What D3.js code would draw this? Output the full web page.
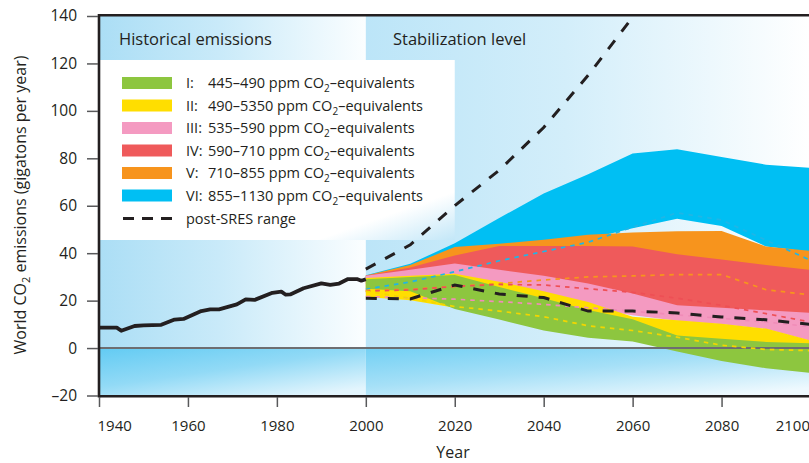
<!DOCTYPE html>
<html>
<head>
<meta charset="utf-8">
<script src="https://cdn.jsdelivr.net/npm/d3@7"></script>
<style>
  html, body { margin: 0; padding: 0; background: #ffffff; }
  svg { display: block; font-family: "Open Sans", "Noto Sans", sans-serif; }
</style>
</head>
<body>
<svg id="chart" width="809" height="463"></svg>
<script>
// ---- Historical emissions (GtCO2-eq per year) ----
const histYears  = [1940, 1944, 1945, 1948, 1950, 1954, 1957, 1959, 1963, 1965, 1967, 1971, 1973, 1975, 1979, 1981, 1982, 1983, 1986, 1990, 1992, 1994, 1996, 1998, 1999, 2000];
const histValues = [8.6, 8.6, 7.3, 9.3, 9.6, 9.8, 12.0, 12.3, 15.6, 16.3, 16.3, 18.4, 20.5, 20.3, 23.3, 23.8, 22.5, 22.6, 25.2, 27.3, 26.6, 27.2, 29.1, 29.1, 28.4, 29.0];

// ---- Stabilization scenario ranges, by decade ----
const scenarioYears = [2000, 2010, 2020, 2030, 2040, 2050, 2060, 2070, 2080, 2090, 2100];

const catI_low    = [25.0, 24.0, 16.5, 12.0, 7.4, 4.4, 2.8, -1.5, -5.5, -8.5, -10.5];
const catI_high   = [29.0, 30.0, 30.8, 25.7, 21.0, 16.0, 12.2, 5.3, 3.9, 2.6, 2.0];

const catII_low    = [21.5, 20.2, 17.0, 13.0, 8.0, 5.0, 3.0, 1.0, -1.0, -2.0, -3.0];
const catII_high   = [29.5, 30.5, 31.3, 28.0, 24.0, 19.4, 13.2, 11.7, 10.2, 8.2, 3.2];
const catII_median = [24.0, 21.0, 17.5, 15.6, 13.2, 9.4, 7.4, 4.6, 1.2, -0.6, -1.1];

const catIII_low    = [23.0, 23.5, 24.0, 22.0, 20.0, 17.0, 13.8, 11.5, 10.0, 8.0, 3.0];
const catIII_high   = [30.5, 33.0, 35.7, 33.0, 30.5, 27.2, 23.0, 18.1, 17.0, 15.9, 14.8];
const catIII_median = [21.7, 21.2, 20.6, 19.6, 18.4, 17.0, 15.5, 14.0, 12.5, 11.0, 9.0];

const catIV_low    = [27.0, 28.0, 29.0, 28.0, 26.0, 23.0, 20.0, 16.5, 14.5, 12.5, 10.5];
const catIV_high   = [30.5, 34.0, 39.0, 43.0, 43.0, 43.0, 42.8, 39.6, 37.3, 35.0, 32.9];
const catIV_median = [24.0, 24.5, 26.0, 26.8, 26.6, 25.0, 23.5, 21.0, 18.0, 14.5, 11.0];

const catV_low    = [28.0, 29.0, 32.0, 34.0, 35.0, 35.0, 34.0, 32.0, 30.0, 28.0, 26.0];
const catV_high   = [30.6, 35.0, 42.6, 44.0, 45.7, 47.8, 48.7, 49.2, 49.4, 42.8, 41.0];
const catV_median = [24.3, 24.8, 26.0, 27.2, 28.7, 30.0, 30.4, 31.0, 31.0, 24.6, 22.4];

const catVI_low    = [29.0, 31.0, 34.0, 38.0, 42.0, 46.0, 50.5, 54.5, 51.5, 42.8, 40.5];
const catVI_high   = [30.7, 35.5, 44.2, 54.8, 65.2, 73.3, 82.0, 83.8, 80.6, 77.3, 76.0];
const catVI_median = [24.8, 27.9, 32.2, 36.8, 40.7, 44.6, 51.0, 57.0, 54.0, 45.5, 37.0];

// ---- post-SRES range ----
const sresLow      = [21.0, 20.7, 26.6, 22.8, 21.3, 15.6, 15.6, 14.8, 13.1, 11.9, 10.0];
const sresHighYears = [2000, 2010, 2020, 2030, 2040, 2050, 2060];
const sresHigh      = [33.3, 43.5, 60.0, 75.0, 93.0, 115.0, 139.5];

// ---- Legend / category labels ----
const catNumerals = ["I:", "II:", "III:", "IV:", "V:", "VI:"];
const catRanges   = ["445–490", "490–5350", "535–590", "590–710", "710–855", "855–1130"];
const catColors   = ["#8dc63f", "#ffde00", "#f49ac1", "#ef5a5b", "#f7941d", "#00bff3"];
const medianColors = [null, "#f2d600", "#f08cb8", "#ee4f55", "#f7941d", "#1fb6e6"];

// ---- Axis ticks ----
const yTicks = [-20, 0, 20, 40, 60, 80, 100, 120, 140];
const xTicks = [1940, 1960, 1980, 2000, 2020, 2040, 2060, 2080, 2100];

const ink = "#231f20";
const svg = d3.select("#chart");
const W = 809;

const x = d3.scaleLinear().domain([1940, 2100]).range([99, 810.5]);
const y = d3.scaleLinear().domain([-20, 140]).range([395.5, 16]);

const defs = svg.append("defs");
function linGrad(id, x1, y1, x2, y2, stops) {
  const g = defs.append("linearGradient").attr("id", id)
    .attr("x1", x1).attr("y1", y1).attr("x2", x2).attr("y2", y2);
  stops.forEach(s => g.append("stop").attr("offset", s[0]).attr("stop-color", s[1]));
}
linGrad("histTop", 0, 0, 1, 0, [[0, "#abdef5"], [0.45, "#c9eaf9"], [1, "#fbfeff"]]);
linGrad("stabTop", 0, 0, 1, 0, [[0, "#bce5f8"], [0.45, "#d3eefa"], [1, "#ffffff"]]);
linGrad("histNeg", 0, 0, 0.8, 1, [[0, "#62cbf3"], [0.5, "#92daf6"], [1, "#e3f5fd"]]);
linGrad("stabNeg", 0, 0, 0.8, 1, [[0, "#72d0f4"], [0.5, "#a6e0f7"], [1, "#eef9fe"]]);
linGrad("legendFill", 0.55, 0.35, 1, 1, [[0, "#ffffff"], [0.72, "#ffffff"], [1, "#c3e7f8"]]);

const xL = x(1940), xM = x(2000), xR = x(2100);
const yT = y(140), yZ = y(0), yB = y(-20);

defs.append("clipPath").attr("id", "plotClip")
  .append("rect").attr("x", xL).attr("y", yT).attr("width", xR - xL).attr("height", yB - yT);

// Background panels
const bg = svg.append("g");
bg.append("rect").attr("x", xL).attr("y", yT).attr("width", xM - xL).attr("height", yZ - yT).attr("fill", "url(#histTop)");
bg.append("rect").attr("x", xM).attr("y", yT).attr("width", xR - xM).attr("height", yZ - yT).attr("fill", "url(#stabTop)");
bg.append("rect").attr("x", xL).attr("y", yZ).attr("width", xM - xL).attr("height", yB - yZ).attr("fill", "url(#histNeg)");
bg.append("rect").attr("x", xM).attr("y", yZ).attr("width", xR - xM).attr("height", yB - yZ).attr("fill", "url(#stabNeg)");

// Legend panel
const legX = xL, legY = 60, legW = x(2020) - xL, legH = 180;
bg.append("rect").attr("x", legX).attr("y", legY).attr("width", legW).attr("height", legH).attr("fill", "url(#legendFill)");

// Panel titles
svg.append("text").attr("x", 119).attr("y", 45).attr("font-size", 16.5).attr("fill", ink).text("Historical emissions");
svg.append("text").attr("x", 393).attr("y", 45).attr("font-size", 16.5).attr("fill", ink).text("Stabilization level");

// Scenario bands
const plot = svg.append("g").attr("clip-path", "url(#plotClip)");
const bandLows  = [catI_low, catII_low, catIII_low, catIV_low, catV_low, catVI_low];
const bandHighs = [catI_high, catII_high, catIII_high, catIV_high, catV_high, catVI_high];
const bandMeds  = [null, catII_median, catIII_median, catIV_median, catV_median, catVI_median];

const area = d3.area().x(d => x(d.year)).y0(d => y(d.low)).y1(d => y(d.high));
const line = d3.line().x(d => x(d.year)).y(d => y(d.v));

// widest range at the back, lowest category on top
for (let i = 5; i >= 0; i--) {
  const rows = scenarioYears.map((yr, k) => ({ year: yr, low: bandLows[i][k], high: bandHighs[i][k] }));
  plot.append("path").datum(rows).attr("d", area).attr("fill", catColors[i]);
}

// zero line
plot.append("line").attr("x1", xL).attr("x2", xR).attr("y1", yZ).attr("y2", yZ)
  .attr("stroke", "#6d6e71").attr("stroke-width", 2);

// category medians
for (let i = 5; i >= 1; i--) {
  const rows = scenarioYears.map((yr, k) => ({ year: yr, v: bandMeds[i][k] }));
  plot.append("path").datum(rows).attr("d", line).attr("fill", "none")
    .attr("stroke", medianColors[i]).attr("stroke-width", 1.7).attr("stroke-dasharray", "4.5,5");
}

// post-SRES range
plot.append("path").datum(scenarioYears.map((yr, k) => ({ year: yr, v: sresLow[k] })))
  .attr("d", line).attr("fill", "none").attr("stroke", ink).attr("stroke-width", 3)
  .attr("stroke-dasharray", "11,11");
plot.append("path").datum(sresHighYears.map((yr, k) => ({ year: yr, v: sresHigh[k] })))
  .attr("d", line).attr("fill", "none").attr("stroke", ink).attr("stroke-width", 3)
  .attr("stroke-dasharray", "11,11");

// historical emissions
plot.append("path").datum(histYears.map((yr, k) => ({ year: yr, v: histValues[k] })))
  .attr("d", line).attr("fill", "none").attr("stroke", ink).attr("stroke-width", 3.8)
  .attr("stroke-linejoin", "round");

// Frame
svg.append("line").attr("x1", xL).attr("x2", W).attr("y1", 15.3).attr("y2", 15.3).attr("stroke", ink).attr("stroke-width", 2.4);
svg.append("line").attr("x1", xL).attr("x2", W).attr("y1", 396.3).attr("y2", 396.3).attr("stroke", ink).attr("stroke-width", 2.4);
svg.append("line").attr("x1", xL).attr("x2", xL).attr("y1", 14).attr("y2", 397.5).attr("stroke", ink).attr("stroke-width", 2.6);

// Axes
const yAxis = svg.append("g").attr("transform", `translate(${xL - 1},0)`)
  .call(d3.axisLeft(y).tickValues(yTicks).tickSize(11).tickPadding(10).tickFormat(d => d < 0 ? "–" + Math.abs(d) : d));
yAxis.select(".domain").remove();
yAxis.selectAll(".tick line").attr("stroke", "#58595b").attr("stroke-width", 1.5);
yAxis.selectAll(".tick text").attr("font-size", 15.5).attr("fill", ink).attr("font-family", "Open Sans");

const xAxis = svg.append("g").attr("transform", `translate(0,${397})`)
  .call(d3.axisBottom(x).tickValues(xTicks).tickSize(10).tickPadding(13).tickFormat(d3.format("d")));
xAxis.select(".domain").remove();
xAxis.selectAll(".tick line").attr("stroke", "#58595b").attr("stroke-width", 1.5);
xAxis.selectAll(".tick text").attr("font-size", 15).attr("fill", ink).attr("font-family", "Open Sans")
  .attr("text-anchor", d => d === 1940 ? "start" : (d === 2100 ? "end" : "middle"))
  .attr("dx", d => d === 1940 ? -2 : (d === 2100 ? -1 : 0));

svg.append("text").attr("x", 453).attr("y", 458).attr("text-anchor", "middle")
  .attr("font-size", 16).attr("fill", ink).text("Year");

// Y axis title
const yt = svg.append("text").attr("transform", "translate(26,205) rotate(-90)")
  .attr("text-anchor", "middle").attr("font-size", 16).attr("fill", ink);
yt.append("tspan").text("World CO");
yt.append("tspan").attr("font-size", 11).attr("dy", 4).text("2");
yt.append("tspan").attr("dy", -4).text(" emissions (gigatons per year)");

// Legend
const rowY = [83, 105.5, 128, 150.5, 173, 195.5, 218.5];
const leg = svg.append("g");
catNumerals.forEach((num, i) => {
  leg.append("rect").attr("x", 122).attr("y", rowY[i] - 6).attr("width", 50).attr("height", 12).attr("fill", catColors[i]);
  leg.append("text").attr("x", 186).attr("y", rowY[i] + 5).attr("font-size", 14.5).attr("fill", ink).text(num);
  const t = leg.append("text").attr("x", 208).attr("y", rowY[i] + 5).attr("font-size", 14.5).attr("fill", ink);
  t.append("tspan").text(catRanges[i] + " ppm CO");
  t.append("tspan").attr("font-size", 10).attr("dy", 4).text("2");
  t.append("tspan").attr("dy", -4).text("–equivalents");
});
leg.append("line").attr("x1", 123).attr("x2", 172).attr("y1", rowY[6]).attr("y2", rowY[6])
  .attr("stroke", ink).attr("stroke-width", 3).attr("stroke-dasharray", "11,8");
leg.append("text").attr("x", 186).attr("y", rowY[6] + 5).attr("font-size", 14.5).attr("fill", ink).text("post-SRES range");
</script>
</body>
</html>
